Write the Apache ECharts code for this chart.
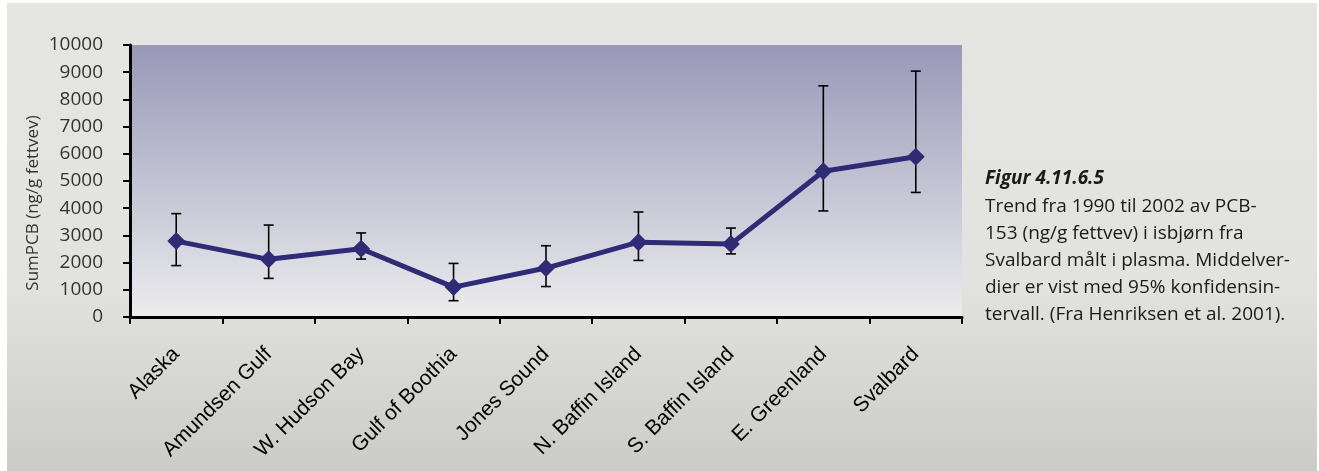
<!DOCTYPE html>
<html>
<head>
<meta charset="utf-8">
<script src="https://cdn.jsdelivr.net/npm/echarts@6/dist/echarts.min.js"></script>
<style>
html,body{margin:0;padding:0;background:#ffffff;}
#c{width:1319px;height:471px;}
</style>
</head>
<body>
<div id="c"></div>
<script>
const categories = ['Alaska','Amundsen Gulf','W. Hudson Bay','Gulf of Boothia','Jones Sound','N. Baffin Island','S. Baffin Island','E. Greenland','Svalbard'];
const means = [2790, 2120, 2510, 1100, 1800, 2750, 2680, 5360, 5890];
const lowerCI = [1890, 1420, 2130, 600, 1120, 2080, 2320, 3900, 4580];
const upperCI = [3800, 3380, 3090, 1970, 2620, 3860, 3270, 8500, 9040];
const yTicks = [0, 10000, 1000];
const yAxisTitle = 'SumPCB (ng/g fettvev)';
const captionTitle = 'Figur 4.11.6.5';
const captionLines = ['Trend fra 1990 til 2002 av PCB-','153 (ng/g fettvev) i isbjørn fra','Svalbard målt i plasma. Middelver-','dier er vist med 95% konfidensin-','tervall. (Fra Henriksen et al. 2001).'];

const errData = categories.map((c, i) => [i, lowerCI[i], upperCI[i]]);

const chart = echarts.init(document.getElementById('c'), null, {renderer: 'canvas'});
const FONT = '"Open Sans", Lato, sans-serif';
const captionGraphics = [{
  type: 'text', x: 985, y: 179,
  style: {text: captionTitle, font: 'italic bold 19px ' + FONT, fill: '#1a1a1a', verticalAlign: 'middle'}
}, {
  type: 'text', x: 33, y: 203, rotation: Math.PI / 2,
  style: {text: yAxisTitle, font: '17px ' + FONT, fill: '#333', align: 'center', verticalAlign: 'middle'}
}];
captionLines.forEach((t, i) => {
  captionGraphics.push({
    type: 'text', x: 985, y: 207 + i * 26.8,
    style: {text: t, font: '19px ' + FONT, fill: '#1a1a1a', verticalAlign: 'middle'}
  });
});

chart.setOption({
  animation: false,
  backgroundColor: '#ffffff',
  graphic: [{
    type: 'rect', left: 7, top: 3, z: -10,
    shape: {width: 1310, height: 468},
    style: {fill: new echarts.graphic.LinearGradient(0, 0, 0, 1, [
      {offset: 0, color: '#e5e5e1'},
      {offset: 0.6, color: '#e2e2de'},
      {offset: 1, color: '#cbcbc7'}
    ])}
  }].concat(captionGraphics),
  grid: {left: 130, right: 357, top: 45, bottom: 154,
    show: true, borderWidth: 0,
    backgroundColor: new echarts.graphic.LinearGradient(0, 0, 0, 1, [
      {offset: 0, color: '#9898b8'},
      {offset: 1, color: '#ececee'}
    ])
  },
  xAxis: {
    type: 'category', data: categories, boundaryGap: true,
    axisLine: {lineStyle: {color: '#000', width: 3}},
    axisTick: {show: true, alignWithLabel: false, length: 7, lineStyle: {color: '#000', width: 2}},
    axisLabel: {rotate: 45, margin: 34, fontFamily: '"Liberation Sans", Arial, sans-serif', fontSize: 21, color: '#000', interval: 0}
  },
  yAxis: {
    type: 'value', min: yTicks[0], max: yTicks[1], interval: yTicks[2],
    axisLine: {show: true, lineStyle: {color: '#000', width: 3}},
    axisTick: {show: true, length: 7, lineStyle: {color: '#000', width: 2}},
    splitLine: {show: false},
    axisLabel: {margin: 27, fontFamily: FONT, fontSize: 19, color: '#333', formatter: v => String(v)}
  },
  series: [{
    type: 'custom',
    data: errData,
    z: 3,
    renderItem: function (params, api) {
      const x = api.value(0);
      const lo = api.coord([x, api.value(1)]);
      const hi = api.coord([x, api.value(2)]);
      const w = 5;
      const st = {stroke: '#000', lineWidth: 1.6, fill: null};
      return {type: 'group', children: [
        {type: 'line', shape: {x1: lo[0], y1: lo[1], x2: hi[0], y2: hi[1]}, style: st},
        {type: 'line', shape: {x1: lo[0] - w, y1: lo[1], x2: lo[0] + w, y2: lo[1]}, style: st},
        {type: 'line', shape: {x1: hi[0] - w, y1: hi[1], x2: hi[0] + w, y2: hi[1]}, style: st}
      ]};
    }
  }, {
    type: 'line', data: means, z: 5,
    symbol: 'diamond', symbolSize: 18,
    lineStyle: {color: '#2f2b75', width: 5},
    itemStyle: {color: '#2f2b75'}
  }]
});
</script>
</body>
</html>
